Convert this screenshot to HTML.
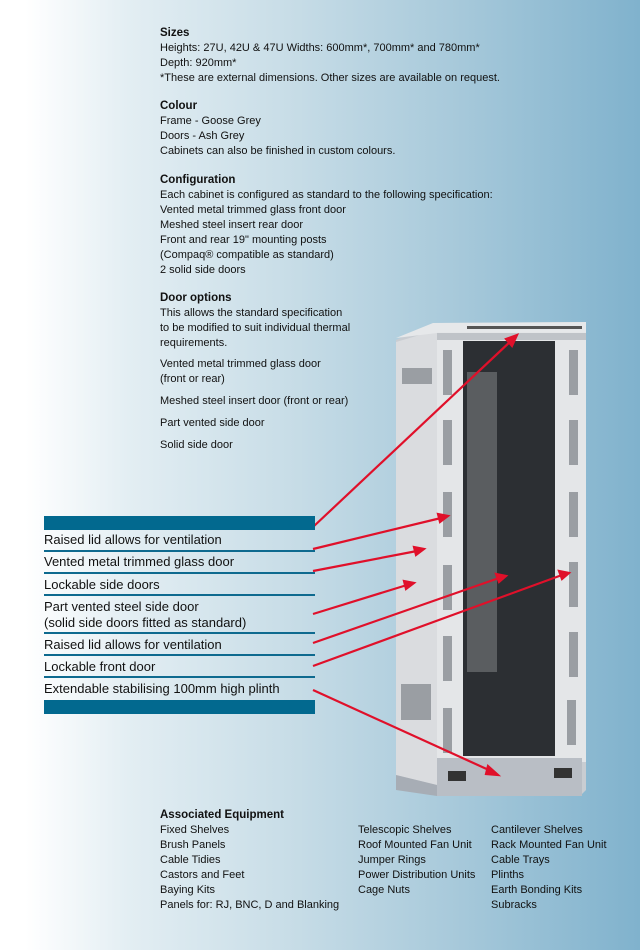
<!DOCTYPE html>
<html><head><meta charset="utf-8"><style>
body{margin:0;width:640px;height:950px;overflow:hidden;position:relative;font-family:"Liberation Sans",sans-serif;
background:linear-gradient(to right,#ffffff 4%,#e3eef3 20%,#c8dde7 45%,#a9cadb 70%,#80b2cd 100%);}
.t{position:absolute;left:160px;font-size:11px;line-height:15px;color:#111;white-space:nowrap}
.t b{font-size:11.5px}
.l{position:absolute;left:44px;font-size:13px;color:#111;white-space:nowrap;line-height:16px}
.ln{position:absolute;left:44px;width:271px;height:2px;background:#0e6a8f}
.bar{position:absolute;left:44px;width:271px;height:14px;background:#02698f}
</style></head><body>
<div class="t" style="top:26px"><b>Sizes</b><br>Heights: 27U, 42U &amp; 47U Widths: 600mm*, 700mm* and 780mm*<br>Depth: 920mm*<br>*These are external dimensions. Other sizes are available on request.</div>
<div class="t" style="top:99px"><b>Colour</b><br>Frame - Goose Grey<br>Doors - Ash Grey<br>Cabinets can also be finished in custom colours.</div>
<div class="t" style="top:173px"><b>Configuration</b><br>Each cabinet is configured as standard to the following specification:<br>Vented metal trimmed glass front door<br>Meshed steel insert rear door<br>Front and rear 19" mounting posts<br>(Compaq® compatible as standard)<br>2 solid side doors</div>
<div class="t" style="top:291px"><b>Door options</b><br>This allows the standard specification<br>to be modified to suit individual thermal<br>requirements.</div>
<div class="t" style="top:357px">Vented metal trimmed glass door<br>(front or rear)</div>
<div class="t" style="top:394px">Meshed steel insert door (front or rear)</div>
<div class="t" style="top:416px">Part vented side door</div>
<div class="t" style="top:438px">Solid side door</div>

<svg style="position:absolute;left:0;top:0" width="640" height="950">
<polygon points="396,340 433,323 586,322 586,790 580,796 437,796 396,785" fill="#c9cdd2"/>
<polygon points="396,342 437,330 437,785 396,775" fill="#dadcdf"/>
<polygon points="396,338 433,323 586,322 586,333 437,333" fill="#e6e8ea"/>
<rect x="437" y="332" width="149" height="430" fill="#e4e6e8"/>
<rect x="463" y="341" width="92" height="415" fill="#2c2f33"/>
<rect x="467" y="372" width="30" height="300" fill="#5a5d60"/>
<rect x="437" y="333" width="149" height="7" fill="#bfc3c8"/>
<rect x="467" y="326" width="115" height="3" fill="#555"/>
<g fill="#9a9ea3">
<rect x="443" y="350" width="9" height="45"/><rect x="443" y="420" width="9" height="45"/><rect x="443" y="492" width="9" height="45"/><rect x="443" y="565" width="9" height="45"/><rect x="443" y="636" width="9" height="45"/><rect x="443" y="708" width="9" height="45"/>
<rect x="569" y="350" width="9" height="45"/><rect x="569" y="420" width="9" height="45"/><rect x="569" y="492" width="9" height="45"/><rect x="569" y="562" width="9" height="45"/><rect x="569" y="632" width="9" height="45"/><rect x="567" y="700" width="9" height="45"/>
<rect x="402" y="368" width="30" height="16"/><rect x="401" y="684" width="30" height="36"/>
</g>
<polygon points="396,775 437,785 437,796 396,790" fill="#a7adb5"/>
<rect x="437" y="758" width="145" height="38" fill="#b9bec5"/>
<rect x="448" y="771" width="18" height="10" fill="#333"/><rect x="554" y="768" width="18" height="10" fill="#333"/>
<g stroke="#e0102a" stroke-width="2.2" fill="#e0102a">
<line x1="313" y1="527" x2="512" y2="340"/><polygon points="517,335 506,339 512,346"/>
<line x1="313" y1="549" x2="441" y2="518"/><polygon points="448,516 438,514 440,522"/>
<line x1="313" y1="571" x2="417" y2="551"/><polygon points="424,549 414,547 416,555"/>
<line x1="313" y1="614" x2="407" y2="585"/><polygon points="414,583 404,581 406,589"/>
<line x1="313" y1="643" x2="499" y2="578"/><polygon points="506,576 496,574 499,582"/>
<line x1="313" y1="666" x2="562" y2="575"/><polygon points="569,573 559,571 562,579"/>
<line x1="313" y1="690" x2="491" y2="771"/><polygon points="498,775 488,766 486,774"/>
</g>
</svg>

<div class="bar" style="top:516px"></div>
<div class="l" style="top:532px">Raised lid allows for ventilation</div>
<div class="ln" style="top:550px"></div>
<div class="l" style="top:554px">Vented metal trimmed glass door</div>
<div class="ln" style="top:572px"></div>
<div class="l" style="top:577px">Lockable side doors</div>
<div class="ln" style="top:594px"></div>
<div class="l" style="top:599px">Part vented steel side door<br>(solid side doors fitted as standard)</div>
<div class="ln" style="top:632px"></div>
<div class="l" style="top:637px">Raised lid allows for ventilation</div>
<div class="ln" style="top:654px"></div>
<div class="l" style="top:659px">Lockable front door</div>
<div class="ln" style="top:676px"></div>
<div class="l" style="top:681px">Extendable stabilising 100mm high plinth</div>
<div class="bar" style="top:700px"></div>

<div class="t" style="top:808px"><b>Associated Equipment</b><br>Fixed Shelves<br>Brush Panels<br>Cable Tidies<br>Castors and Feet<br>Baying Kits<br>Panels for: RJ, BNC, D and Blanking</div>
<div class="t" style="top:823px;left:358px">Telescopic Shelves<br>Roof Mounted Fan Unit<br>Jumper Rings<br>Power Distribution Units<br>Cage Nuts</div>
<div class="t" style="top:823px;left:491px">Cantilever Shelves<br>Rack Mounted Fan Unit<br>Cable Trays<br>Plinths<br>Earth Bonding Kits<br>Subracks</div>
</body></html>
